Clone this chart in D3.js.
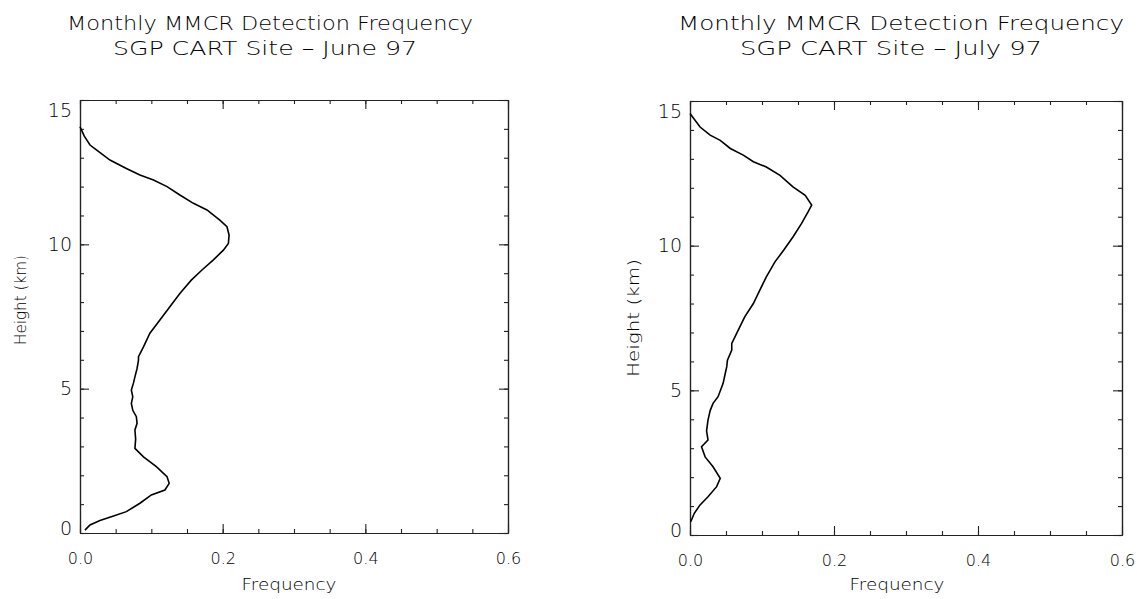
<!DOCTYPE html>
<html>
<head>
<meta charset="utf-8">
<script src="https://cdn.jsdelivr.net/npm/d3@7"></script>
<style>
  body { margin: 0; background: #fff; }
  svg { display: block; }
  text { font-family: "DejaVu Sans", sans-serif; fill: #000; }
</style>
</head>
<body>
<div class="charts"></div>
<script>
// June 97 profile (height in km, detection frequency)
const juneHeight = [0.10, 0.28, 0.43, 0.59, 0.74, 1.03, 1.32, 1.49, 1.72, 1.95, 2.30, 2.64, 2.93,
  3.25, 3.57, 3.80, 4.03, 4.25, 4.49, 4.72, 4.95, 5.20, 5.41, 5.70, 5.99, 6.11, 6.45, 6.92, 7.38,
  7.84, 8.30, 8.76, 9.11, 9.46, 9.80, 10.03, 10.32, 10.61, 10.84, 11.19, 11.42, 11.71, 12.00,
  12.23, 12.40, 12.63, 12.92, 13.27, 13.44, 13.75, 14.08];
const juneFreq = [0.007, 0.014, 0.028, 0.047, 0.065, 0.084, 0.100, 0.119, 0.125, 0.122, 0.107,
  0.089, 0.077, 0.078, 0.077, 0.080, 0.079, 0.074, 0.072, 0.074, 0.072, 0.075, 0.077, 0.080,
  0.082, 0.082, 0.089, 0.098, 0.112, 0.126, 0.140, 0.156, 0.171, 0.187, 0.201, 0.208, 0.209,
  0.206, 0.196, 0.178, 0.159, 0.140, 0.122, 0.103, 0.084, 0.065, 0.042, 0.023, 0.014, 0.006, 0.000];

// July 97 profile
const julyHeight = [0.46, 0.75, 1.04, 1.32, 1.67, 1.96, 2.36, 2.70, 3.05, 3.28, 3.60, 3.97, 4.30,
  4.55, 4.78, 5.24, 5.59, 5.81, 6.04, 6.39, 6.62, 7.08, 7.54, 8.00, 8.46, 8.92, 9.44, 9.84, 10.30,
  10.77, 11.17, 11.40, 11.74, 12.03, 12.43, 12.72, 12.90, 13.13, 13.36, 13.64, 13.82, 14.10, 14.57];
const julyFreq = [0.001, 0.006, 0.014, 0.025, 0.037, 0.042, 0.032, 0.021, 0.016, 0.025, 0.023,
  0.025, 0.028, 0.032, 0.039, 0.046, 0.049, 0.051, 0.052, 0.058, 0.058, 0.067, 0.076, 0.088,
  0.097, 0.106, 0.118, 0.130, 0.143, 0.155, 0.164, 0.169, 0.160, 0.143, 0.125, 0.106, 0.088,
  0.074, 0.056, 0.042, 0.028, 0.014, 0.000];

const freqMajor = [0, 0.2, 0.4, 0.6];
const freqMinor = d3.range(0, 13).map(i => i * 0.05);
const heightMajor = [0, 5, 10, 15];
const heightMinor = d3.range(0, 16);

const titleLine1 = "Monthly MMCR Detection Frequency";
const titles = ["SGP CART Site \u2013 June 97", "SGP CART Site \u2013 July 97"];

const svg = d3.select(".charts").append("svg")
  .attr("width", 1137)
  .attr("height", 599);

// panel layout
const panels = [
  { left: 80, right: 508, top: 100, bottom: 533, height: juneHeight, freq: juneFreq, sub: titles[0],
    t1: [67, 406], t2: [113, 304], ylab: [20, 300, 90], xlab: [289, 95] },
  { left: 690, right: 1122, top: 101, bottom: 535, height: julyHeight, freq: julyFreq, sub: titles[1],
    t1: [678, 446], t2: [740, 302], ylab: [633, 318, 118], xlab: [897, 95] }
];

panels.forEach(function (p) {
  let x = d3.scaleLinear().domain([0, 0.6]).range([p.left, p.right]);
  let y = d3.scaleLinear().domain([0, 15]).range([p.bottom, p.top]);

  let g = svg.append("g");

  // minor ticks
  g.append("g").attr("transform", `translate(0, ${p.bottom})`)
    .call(d3.axisBottom(x).tickValues(freqMinor).tickSize(-4).tickSizeOuter(0).tickFormat(""));
  g.append("g").attr("transform", `translate(0, ${p.top})`)
    .call(d3.axisTop(x).tickValues(freqMinor).tickSize(-4).tickSizeOuter(0).tickFormat(""));
  g.append("g").attr("transform", `translate(${p.left}, 0)`)
    .call(d3.axisLeft(y).tickValues(heightMinor).tickSize(-4).tickSizeOuter(0).tickFormat(""));
  g.append("g").attr("transform", `translate(${p.right}, 0)`)
    .call(d3.axisRight(y).tickValues(heightMinor).tickSize(-4).tickSizeOuter(0).tickFormat(""));

  // major ticks + labels
  let bx = g.append("g").attr("class", "xaxis").attr("transform", `translate(0, ${p.bottom})`)
    .call(d3.axisBottom(x).tickValues(freqMajor).tickSize(-9).tickSizeOuter(0)
      .tickPadding(20).tickFormat(d3.format(".1f")));
  g.append("g").attr("transform", `translate(0, ${p.top})`)
    .call(d3.axisTop(x).tickValues(freqMajor).tickSize(-9).tickSizeOuter(0).tickFormat(""));
  let ly = g.append("g").attr("class", "yaxis").attr("transform", `translate(${p.left}, 0)`)
    .call(d3.axisLeft(y).tickValues(heightMajor).tickSize(-9).tickSizeOuter(0)
      .tickPadding(8).tickFormat(d3.format("d")));
  g.append("g").attr("transform", `translate(${p.right}, 0)`)
    .call(d3.axisRight(y).tickValues(heightMajor).tickSize(-9).tickSizeOuter(0).tickFormat(""));

  g.selectAll(".domain").attr("stroke", "#222").attr("stroke-width", 1.2);
  g.selectAll(".tick line").attr("stroke", "#222").attr("stroke-width", 1.1);

  bx.selectAll("text")
    .style("font-family", "DejaVu Sans")
    .style("font-size", "16px")
    .style("font-weight", 300)
    .attr("fill", "#111");
  ly.selectAll("text")
    .style("font-family", "DejaVu Sans")
    .style("font-size", "19px")
    .style("font-weight", 300)
    .attr("fill", "#000")
    .attr("dy", function (d) {
      // end labels sit inside the box like the original
      if (d === 15) return "0.85em";
      if (d === 0) return "0.1em";
      return "0.32em";
    });

  // curve
  let pts = p.height.map((h, i) => [p.freq[i], h]);
  let line = d3.line()
    .x(d => x(d[0]))
    .y(d => y(d[1]));
  g.append("path")
    .datum(pts)
    .attr("fill", "none")
    .attr("stroke", "#000")
    .attr("stroke-width", 1.6)
    .attr("d", line);

  // titles
  g.append("text")
    .attr("x", p.t1[0]).attr("y", 30)
    .attr("textLength", p.t1[1]).attr("lengthAdjust", "spacingAndGlyphs")
    .style("font-size", "20px").style("font-weight", 300)
    .text(titleLine1);
  g.append("text")
    .attr("x", p.t2[0]).attr("y", 55)
    .attr("textLength", p.t2[1]).attr("lengthAdjust", "spacingAndGlyphs")
    .style("font-size", "20px").style("font-weight", 300)
    .text(p.sub);

  // axis labels
  g.append("text")
    .attr("text-anchor", "middle")
    .attr("transform", `translate(${p.ylab[0] + 6}, ${p.ylab[1]}) rotate(-90)`)
    .attr("textLength", p.ylab[2]).attr("lengthAdjust", "spacingAndGlyphs")
    .style("font-size", "16px").style("font-weight", 300)
    .text("Height (km)");
  g.append("text")
    .attr("text-anchor", "middle")
    .attr("x", p.xlab[0]).attr("y", 590)
    .attr("textLength", p.xlab[1]).attr("lengthAdjust", "spacingAndGlyphs")
    .style("font-size", "16px").style("font-weight", 300)
    .text("Frequency");
});
</script>
</body>
</html>
